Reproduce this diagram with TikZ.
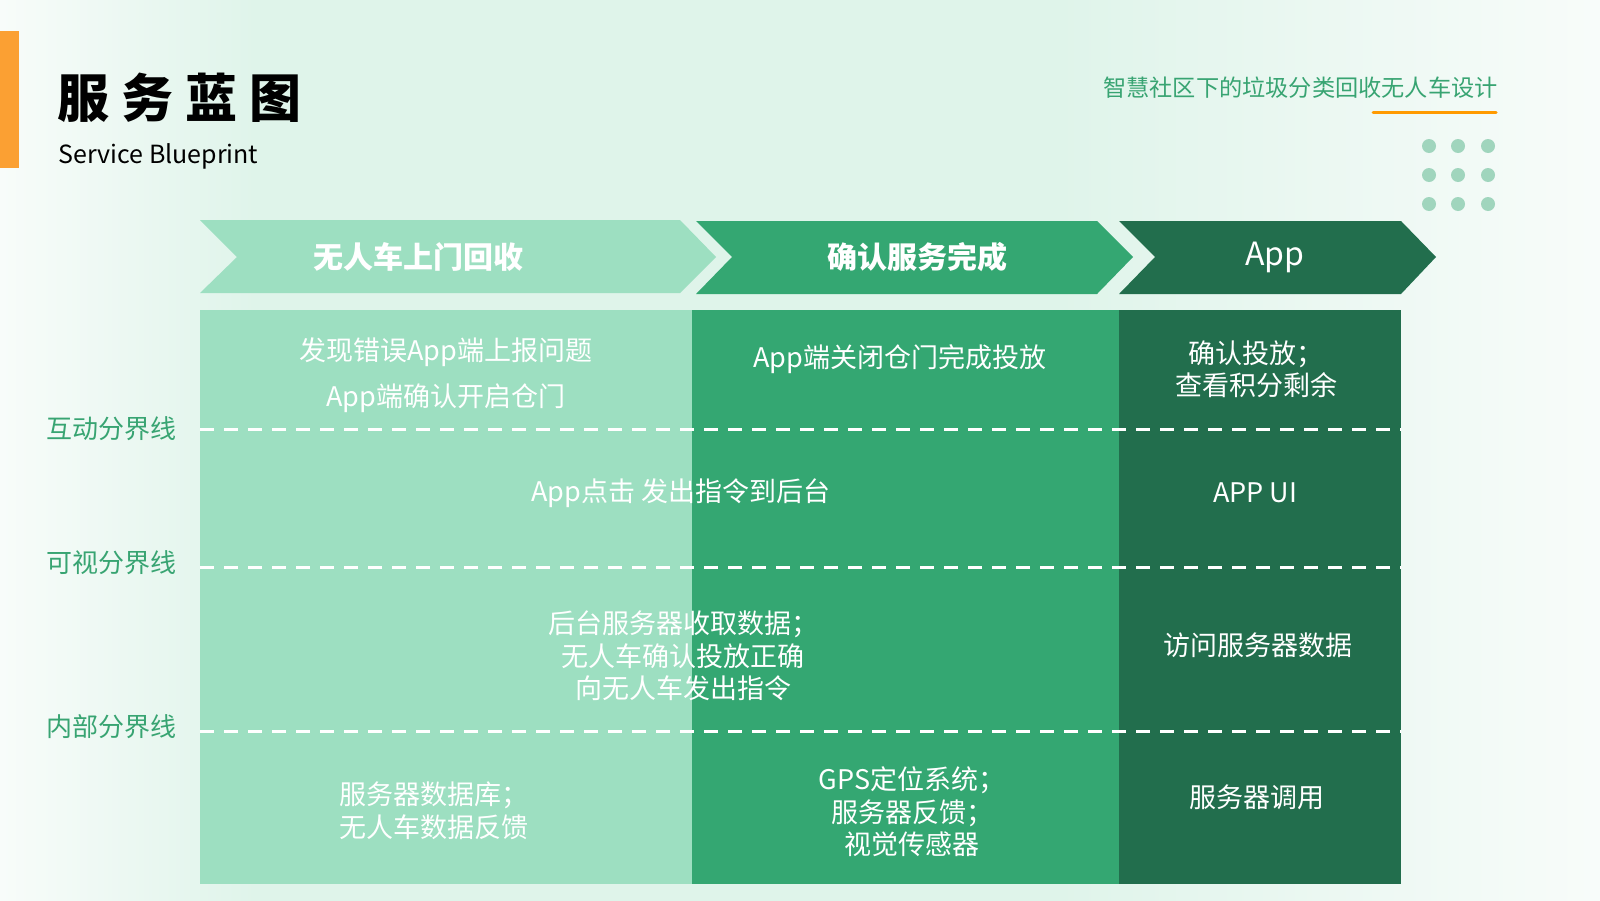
\documentclass[tikz,border=0pt]{standalone}
\usepackage{fontspec}
\setmainfont{Noto Sans CJK SC}
\usetikzlibrary{positioning,calc}
\definecolor{bgmint}{HTML}{DFF4EA}
\definecolor{bgpale}{HTML}{F8FCFA}
\definecolor{stA}{HTML}{9DDFC1}
\definecolor{stB}{HTML}{34A772}
\definecolor{stC}{HTML}{226E4D}
\definecolor{lblgreen}{HTML}{38A472}
\definecolor{dotgreen}{HTML}{A0D5BD}
\definecolor{barorange}{HTML}{FBA033}
\definecolor{lineorange}{HTML}{FF9A00}
\pgfdeclarehorizontalshading{bgshade}{100bp}{color(0bp)=(bgpale); color(25bp)=(bgpale); color(33bp)=(bgmint); color(58bp)=(bgmint); color(75bp)=(bgpale); color(100bp)=(bgpale)}
\tikzset{cell/.style={text=white, align=center, inner sep=0pt, font=\fontsize{13.5}{16.25}\selectfont}}
\tikzset{stagehd/.style={text=white, inner sep=0pt, font=\fontsize{15}{18}\selectfont\bfseries}}
\tikzset{layerlbl/.style={text=lblgreen, anchor=west, inner sep=0pt, font=\fontsize{13}{15}\selectfont}}
\tikzset{divline/.style={draw=white, line width=1.5pt, dash pattern=on 7pt off 5pt}}
\tikzset{dotmark/.style={fill=dotgreen, draw=none}}
\begin{document}
\begin{tikzpicture}[x=0.5pt, y=-0.5pt]
	\shade[shading=bgshade] (0,0) rectangle (1600,900);
	\useasboundingbox (0,0) rectangle (1600,900);
	%
	\fill[barorange] (0,31) rectangle (19,168);
	\node[anchor=west, inner sep=0pt, font=\fontsize{26}{30}\selectfont\bfseries] (ttl) at (57,98)
		{服\hspace{6pt}务\hspace{6pt}蓝\hspace{6pt}图};
	\node[anchor=base west, inner sep=0pt, font=\fontsize{12.5}{15}\selectfont] (subttl) at (58,163) {Service Blueprint};
	\node[anchor=east, inner sep=0pt, text=lblgreen, font=\fontsize{11.6}{14}\selectfont] (proj) at (1498,88)
		{智慧社区下的垃圾分类回收无人车设计};
	\draw[lineorange, line width=1.5pt, line cap=round] (1373,112) -- (1496,112);
	\foreach \dx in {1429,1458,1488}
		\foreach \dy in {146,175,204}
			\fill[dotmark] (\dx,\dy) circle (7);
	%
	\fill[stA] (200,220) -- (680,220) -- (716,257) -- (680,293) -- (200,293) -- (237,257) -- cycle;
	\fill[stB] (696,221) -- (1097,221) -- (1133,257) -- (1097,294) -- (696,294) -- (732,257) -- cycle;
	\fill[stC] (1119,221) -- (1401,221) -- (1436,257) -- (1401,294) -- (1119,294) -- (1155,257) -- cycle;
	\node[stagehd] (stg1) at (418,257) {无人车上门回收};
	\node[stagehd] (stg2) at (917,257) {确认服务完成};
	\node[stagehd, font=\fontsize{16}{18}\selectfont] (stg3) at (1275,257) {App};
	%
	\fill[stA] (200,310) rectangle (692,884);
	\fill[stB] (692,310) rectangle (1119,884);
	\fill[stC] (1119,310) rectangle (1401,884);
	\foreach \yy in {429,567,731}
		\draw[divline] (200,\yy) -- (1401,\yy);
	%
	\node[layerlbl] (lay1) at (46,429) {互动分界线};
	\node[layerlbl] (lay2) at (46,563) {可视分界线};
	\node[layerlbl] (lay3) at (46,727) {内部分界线};
	%
	\node[cell] (c11) at (446,375) {发现错误App端上报问题\\[6.75pt]App端确认开启仓门};
	\node[cell] (c12) at (900,359) {App端关闭仓门完成投放};
	\node[cell] (c13) at (1256,369) {确认投放；\\查看积分剩余};
	\node[cell] (c21) at (681,493) {App点击 发出指令到后台};
	\node[cell] (c23) at (1255,493) {APP UI};
	\node[cell] (c31) at (683,656) {后台服务器收取数据；\\无人车确认投放正确\\向无人车发出指令};
	\node[cell] (c33) at (1258,645) {访问服务器数据};
	\node[cell] (c41) at (434,811) {服务器数据库；\\无人车数据反馈};
	\node[cell] (c42) at (912,812) {GPS定位系统；\\服务器反馈；\\视觉传感器};
	\node[cell] (c43) at (1257,797) {服务器调用};
\end{tikzpicture}
\end{document}
